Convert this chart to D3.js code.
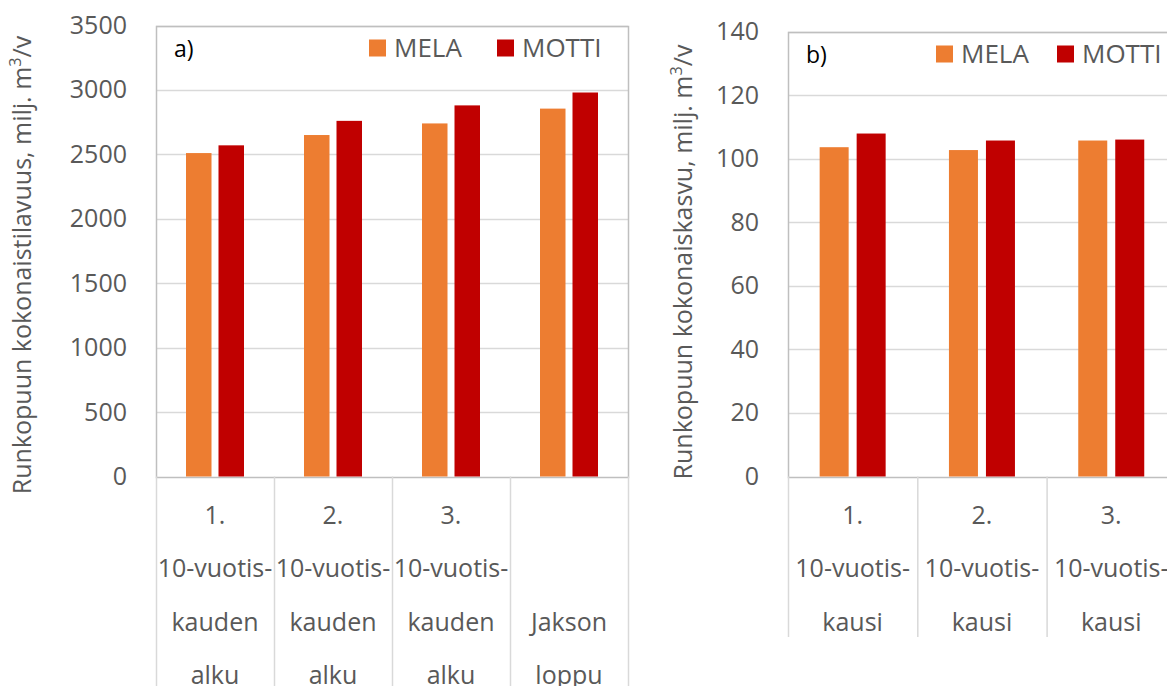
<!DOCTYPE html>
<html>
<head>
<meta charset="utf-8">
<script src="https://d3js.org/d3.v7.min.js"></script>
<style>
  body { margin: 0; background: #fff; }
  svg { display: block; font-family: "Open Sans", sans-serif; }
</style>
</head>
<body>
<div id="chart"></div>
<script>
// data
var series = ["MELA", "MOTTI"];
var colors = ["#ED7D31", "#C00000"];

var catsA = [["1.", "10-vuotis-", "kauden", "alku"],
             ["2.", "10-vuotis-", "kauden", "alku"],
             ["3.", "10-vuotis-", "kauden", "alku"],
             ["", "", "Jakson", "loppu"]];
var melaA = [2510, 2650, 2740, 2855];
var mottiA = [2570, 2760, 2880, 2980];
var ticksA = [0, 500, 1000, 1500, 2000, 2500, 3000, 3500];

var catsB = [["1.", "10-vuotis-", "kausi"],
             ["2.", "10-vuotis-", "kausi"],
             ["3.", "10-vuotis-", "kausi"]];
var melaB = [103.6, 102.7, 105.7];
var mottiB = [107.9, 105.7, 106.0];
var ticksB = [0, 20, 40, 60, 80, 100, 120, 140];

var W = 1167, H = 686;
var svg = d3.select("#chart").append("svg")
  .attr("width", W).attr("height", H);

var textCol = "#595959", gridCol = "#D9D9D9", frameCol = "#BFBFBF";
var fs = 25;

function panel(opt) {
  var g = svg.append("g");
  var n = opt.cats.length;
  var x = d3.scaleBand().domain(d3.range(n)).range([opt.left, opt.left + opt.cw * n]).padding(0);
  var y = d3.scaleLinear().domain([0, opt.ymax]).range([opt.bottom, opt.top]);
  var half = opt.bw + opt.gap / 2;
  var x1 = d3.scaleBand().domain(series).range([-half, half]).paddingInner(opt.gap / (opt.bw + opt.gap));

  // gridlines
  g.selectAll(".grid").data(opt.ticks.slice(1)).enter().append("line")
    .attr("x1", opt.left).attr("x2", opt.left + opt.cw * n)
    .attr("y1", function(d) { return Math.round(y(d)) + 0.5; })
    .attr("y2", function(d) { return Math.round(y(d)) + 0.5; })
    .attr("stroke", gridCol).attr("stroke-width", 1.5);

  // frame
  g.append("rect")
    .attr("x", opt.left + 0.5).attr("y", Math.round(y(opt.ymax)) + 0.5)
    .attr("width", opt.cw * n).attr("height", Math.round(y(0) - y(opt.ymax)))
    .attr("fill", "none").attr("stroke", frameCol).attr("stroke-width", 1.5);

  // bars
  var rows = d3.range(n).map(function(i) { return { i: i, v: [opt.mela[i], opt.motti[i]] }; });
  var grp = g.selectAll(".cat").data(rows).enter().append("g")
    .attr("transform", function(d) { return "translate(" + (x(d.i) + x.bandwidth() / 2) + ",0)"; });
  grp.selectAll("rect").data(function(d) { return d.v.map(function(v, k) { return { k: k, v: v }; }); })
    .enter().append("rect")
    .attr("x", function(d) { return x1(series[d.k]); })
    .attr("width", x1.bandwidth())
    .attr("y", function(d) { return y(d.v); })
    .attr("height", function(d) { return y(0) - y(d.v); })
    .attr("fill", function(d) { return colors[d.k]; });

  // y tick labels
  var yAxis = g.append("g").attr("transform", "translate(" + (opt.left - 29) + ",0)")
    .call(d3.axisLeft(y).tickValues(opt.ticks).tickFormat(d3.format("d")).tickSize(0).tickPadding(0));
  yAxis.select(".domain").remove();
  yAxis.selectAll("text").attr("font-size", fs).attr("fill", textCol)
    .attr("font-family", "Open Sans, sans-serif");

  // category separators
  g.selectAll(".sep").data(d3.range(n + 1)).enter().append("line")
    .attr("x1", function(i) { return opt.left + i * opt.cw + 0.5; })
    .attr("x2", function(i) { return opt.left + i * opt.cw + 0.5; })
    .attr("y1", opt.bottom).attr("y2", opt.sepEnd)
    .attr("stroke", gridCol).attr("stroke-width", 1.5);

  // category labels
  var lab = g.selectAll(".lab").data(opt.cats).enter().append("text")
    .attr("text-anchor", "middle").attr("font-size", fs).attr("fill", textCol)
    .attr("x", function(d, i) { return x(i) + x.bandwidth() / 2; });
  lab.selectAll("tspan").data(function(d) { return d; }).enter().append("tspan")
    .attr("x", function() { return d3.select(this.parentNode).attr("x"); })
    .attr("y", function(d, j) { return opt.bottom + 47 + j * 53.5; })
    .text(function(d) { return d; });

  // y axis title
  var t = g.append("text")
    .attr("transform", "translate(" + opt.titleX + "," + opt.titleY + ") rotate(-90)")
    .attr("text-anchor", "middle").attr("font-size", fs).attr("fill", textCol);
  t.append("tspan").text(opt.title);
  t.append("tspan").attr("font-size", fs * 0.65).attr("dy", -10).text("3");
  t.append("tspan").attr("dy", 10).text("/v");

  // panel letter
  g.append("text").attr("x", opt.left + 18).attr("y", opt.top + 31)
    .attr("font-size", 23).attr("fill", "#000").text(opt.letter);

  // legend
  var lg = g.selectAll(".leg").data(series).enter().append("g")
    .attr("transform", function(d, i) { return "translate(" + opt.legX[i] + "," + (opt.top + 14) + ")"; });
  lg.append("rect").attr("width", 17).attr("height", 17)
    .attr("fill", function(d, i) { return colors[i]; });
  lg.append("text").attr("x", 25).attr("y", 17.5).attr("font-size", fs + 1).attr("fill", textCol)
    .text(function(d) { return d; });
}

panel({
  cats: catsA, mela: melaA, motti: mottiA, ticks: ticksA, ymax: 3500,
  left: 156, cw: 118, top: 25.5, bottom: 476.5, bw: 25.5, gap: 7,
  sepEnd: 686, title: "Runkopuun kokonaistilavuus, milj. m", titleX: 31, titleY: 265,
  letter: "a)", legX: [369, 497]
});

panel({
  cats: catsB, mela: melaB, motti: mottiB, ticks: ticksB, ymax: 140,
  left: 788, cw: 129.3, top: 31.5, bottom: 476.5, bw: 29, gap: 8,
  sepEnd: 637, title: "Runkopuun kokonaiskasvu, milj. m", titleX: 692, titleY: 262,
  letter: "b)", legX: [936, 1057]
});
</script>
</body>
</html>
